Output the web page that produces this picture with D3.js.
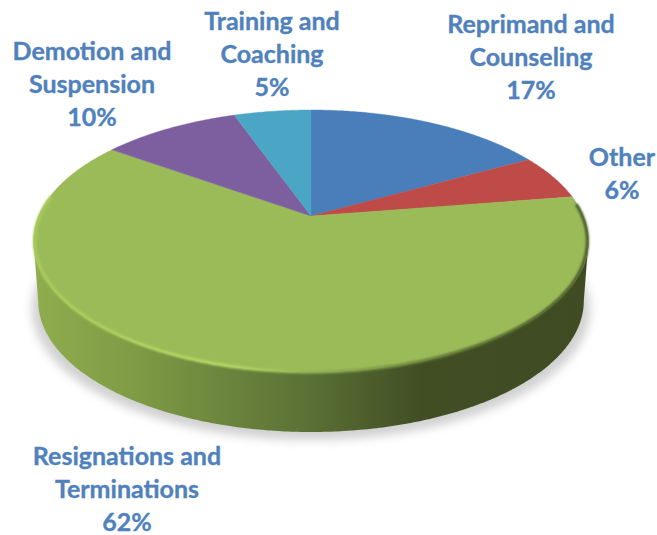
<!DOCTYPE html>
<html>
<head>
<meta charset="utf-8">
<script src="https://cdn.jsdelivr.net/npm/d3@7"></script>
<style>
  html, body { margin: 0; padding: 0; background: #fff; }
  svg { display: block; }
  .label { font-family: Lato, "Open Sans", sans-serif; font-weight: 700; font-size: 25px; fill: #4f81bd; stroke: #4f81bd; stroke-width: 0.35px; text-anchor: middle; }
</style>
</head>
<body>
<div id="chart"></div>
<script>
const categories = ["Reprimand and Counseling", "Other", "Resignations and Terminations", "Demotion and Suspension", "Training and Coaching"];
const labelLines = [["Reprimand and", "Counseling"], ["Other"], ["Resignations and", "Terminations"], ["Demotion and", "Suspension"], ["Training and", "Coaching"]];
// the labels show these rounded
const values = [16.9, 5.6, 62.4, 9.7, 5.4];
const colors = ["#4a7ebb", "#be4b48", "#9bbb59", "#7d5f9f", "#4aa6c4"];

// label centre x / first baseline, placed by hand like the original
const labelX = [531, 622, 127, 92, 272];
const labelY = [33, 166, 465, 60, 30];
const lineH = 33;

const width = 657, height = 535;

const svg = d3.select("#chart").append("svg")
  .attr("width", width)
  .attr("height", height);

const defs = svg.append("defs");

const sideGrad = defs.append("linearGradient").attr("id", "side")
  .attr("gradientUnits", "userSpaceOnUse")
  .attr("x1", 36).attr("x2", 584).attr("y1", 0).attr("y2", 0);
sideGrad.append("stop").attr("offset", "0").attr("stop-color", "#8fad4e");
sideGrad.append("stop").attr("offset", "0.18").attr("stop-color", "#7f9b45");
sideGrad.append("stop").attr("offset", "0.5").attr("stop-color", "#5a7035");
sideGrad.append("stop").attr("offset", "0.7").attr("stop-color", "#414e24");
sideGrad.append("stop").attr("offset", "1").attr("stop-color", "#3f4b22");

const rimGrad = defs.append("linearGradient").attr("id", "rim")
  .attr("gradientUnits", "userSpaceOnUse")
  .attr("x1", 33).attr("x2", 588).attr("y1", 0).attr("y2", 0);
rimGrad.append("stop").attr("offset", "0").attr("stop-color", "#a9cc5c");
rimGrad.append("stop").attr("offset", "0.35").attr("stop-color", "#b7dc66");
rimGrad.append("stop").attr("offset", "0.55").attr("stop-color", "#8aa84e");
rimGrad.append("stop").attr("offset", "0.8").attr("stop-color", "#55672d");
rimGrad.append("stop").attr("offset", "1").attr("stop-color", "#46552a");

defs.append("filter").attr("id", "blurBig")
  .attr("x", "-10%").attr("y", "-10%").attr("width", "120%").attr("height", "120%")
  .append("feGaussianBlur").attr("stdDeviation", 5);
defs.append("filter").attr("id", "blurSmall")
  .attr("x", "-5%").attr("y", "-5%").attr("width", "110%").attr("height", "110%")
  .append("feGaussianBlur").attr("stdDeviation", 1);

// the disc is seen in perspective: apex sits above the middle of the ellipse
const cx = 311, apexY = 216, topY = 110, botY = 372, halfW = 277.5;
const kv = (2 * apexY - botY - topY) / (botY - topY);
const bv = botY + botY * kv - apexY;
const ax = halfW * Math.sqrt(1 - kv * kv);

function project(angle, scale, dy) {
  const u = Math.sin(angle), v = -Math.cos(angle);
  const w = 1 + kv * v;
  return [cx + scale * ax * u / w, (apexY + bv * v) / w + dy];
}

const sweep = (a0, a1, scale, dy) => {
  const n = Math.max(2, Math.ceil(Math.abs(a1 - a0) / 0.01));
  return d3.range(n + 1).map(i => project(a0 + (a1 - a0) * i / n, scale, dy));
};

const line = d3.line();
const pie = d3.pie().sort(null).value(d => d)(values);
const color = d3.scaleOrdinal().domain(categories).range(colors);

const full = 2 * Math.PI;

// soft shadow under the disc
svg.append("path")
  .attr("d", line(sweep(0, full, 1.005, 68)) + "Z")
  .attr("fill", "#bdbdbd")
  .attr("opacity", 0.7)
  .attr("filter", "url(#blurBig)");

// wall: between the side tangents of the two rims, round the front
const wallStart = Math.acos(kv), wallEnd = full - wallStart;
const wall = sweep(wallStart, wallEnd, 1, 0)
  .concat(sweep(wallEnd, wallStart, 0.983, 60));
svg.append("path")
  .attr("d", line(wall) + "Z")
  .attr("fill", "url(#side)");

// top face
svg.selectAll("path.slice")
  .data(pie)
  .enter()
  .append("path")
  .attr("class", "slice")
  .attr("d", d => "M" + cx + "," + apexY + "L" + line(sweep(d.startAngle, d.endAngle, 1, 0)).slice(1) + "Z")
  .attr("fill", (d, i) => color(categories[i]))
  .attr("stroke", (d, i) => color(categories[i]))
  .attr("stroke-width", 0.4);

// bevel on the front edge of the face
svg.append("path")
  .attr("d", line(sweep(Math.PI * 0.47, Math.PI * 1.55, 0.996, 0)))
  .attr("fill", "none")
  .attr("stroke", "url(#rim)")
  .attr("stroke-width", 3)
  .attr("filter", "url(#blurSmall)");

// labels
pie.forEach((d, i) => {
  const text = svg.append("text").attr("class", "label");
  labelLines[i].concat([Math.round(d.data) + "%"]).forEach((t, j) => {
    text.append("tspan")
      .attr("x", labelX[i])
      .attr("y", labelY[i] + j * lineH)
      .text(t);
  });
});
</script>
</body>
</html>
